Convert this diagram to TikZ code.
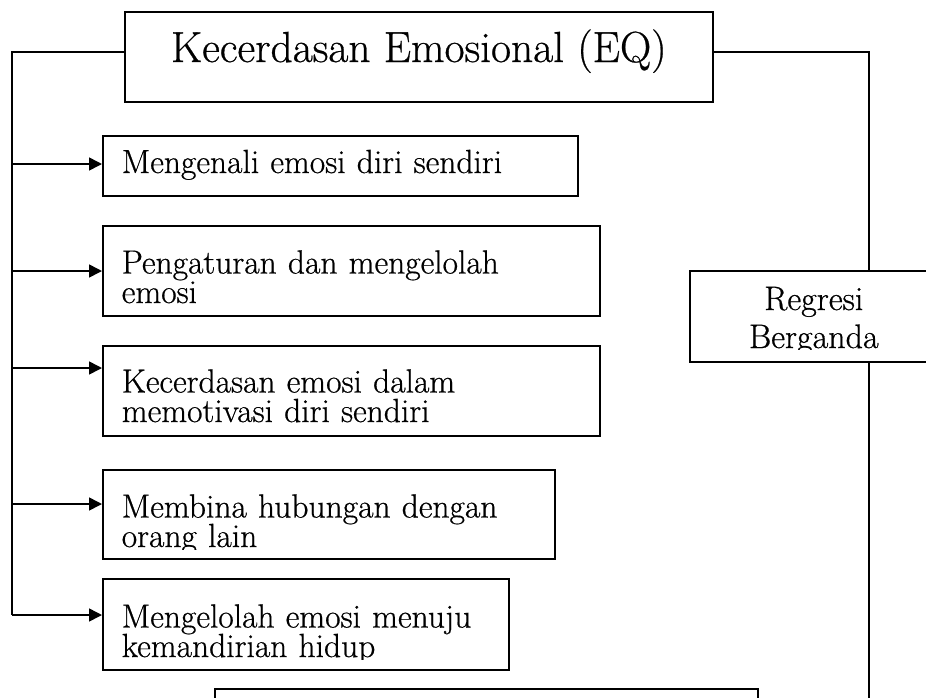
\documentclass[tikz,border=0pt]{standalone}
\usepackage{fontspec}
\setmainfont{Latin Modern Roman}
\usetikzlibrary{arrows.meta}
\newcommand{\heavier}{\addfontfeatures{FakeBold=0.6}}
\begin{document}
\begin{tikzpicture}[x=1pt,y=-1pt,line width=1.6pt,
  itembox/.style={draw, rectangle, anchor=base west, inner xsep=19pt, inner ysep=0pt,
    align=left, font={\fontsize{33.5}{29.5}\selectfont\heavier\lineskiplimit=-60pt}},
  conn/.style={-{Triangle[length=13pt,width=13pt]}},
  mask/.style={fill=white, draw=none}
]
\useasboundingbox (0,0) rectangle (926,697);
\clip (0,0) rectangle (926,697);

% title box (124..712 x 12..102), baseline 62
\node[draw, rectangle, anchor=base west, minimum width=588pt, inner sep=0pt,
  font={\fontsize{43.5}{50}\selectfont\heavier}, text height=50pt, text depth=40pt]
  (title) at (124,62) {Kecerdasan Emosional (EQ)};

% items
\node[itembox, text width=437pt, text height=37pt, text depth=23pt] (b1) at (102,173)
  {Mengenali emosi diri sendiri};
\node[itembox, text width=459pt, text height=47.5pt, text depth=42.5pt] (b2) at (102,273.5)
  {Pengaturan dan mengelolah\\emosi};
\node[itembox, text width=459pt, text height=46.5pt, text depth=43.5pt] (b3) at (102,392.5)
  {Kecerdasan emosi dalam\\memotivasi diri sendiri};
\node[itembox, text width=414pt, text height=47.5pt, text depth=41.5pt] (b4) at (102,517.5)
  {Membina hubungan dengan\\orang lain};
\node[itembox, text width=368pt, text height=48.5pt, text depth=42.5pt] (b5) at (102,627.5)
  {Mengelolah emosi menuju\\kemandirian hidup};

% regresi box (689..937 x 271..362)
\node[draw, rectangle, anchor=base west, inner sep=0pt, text width=248pt, align=center,
  font={\fontsize{34}{38}\selectfont\heavier}, text height=39pt, text depth=52pt]
  (reg) at (689,310) {Regresi\\Berganda};

% bottom box, cut off by the page edge
\node[draw, rectangle, anchor=north west, minimum width=543pt, minimum height=40pt,
  inner sep=0pt] (bot) at (214,688) {};

% descenders clipped by the text frames, as in the source
\fill[mask] (103.5,550) rectangle (552.5,557.5);
\fill[mask] (103.5,660) rectangle (506.5,668.5);
\fill[mask] (690.5,350) rectangle (926,360.5);

% coordinates
\coordinate (tl) at (12,52);
\coordinate (tr) at (869,52);
\coordinate (a1) at (12,164);
\coordinate (a2) at (12,271);
\coordinate (a3) at (12,368);
\coordinate (a4) at (12,504);
\coordinate (a5) at (12,615);
\coordinate (rb) at (869,700);

% left trunk
\draw (title.west |- tl) -- (tl) -- (a5);
\draw[conn] (a1) -- (a1 -| b1.west);
\draw[conn] (a2) -- (a2 -| b2.west);
\draw[conn] (a3) -- (a3 -| b3.west);
\draw[conn] (a4) -- (a4 -| b4.west);
\draw[conn] (a5) -- (a5 -| b5.west);

% right trunk
\draw (title.east |- tr) -- (tr) -- (tr |- reg.north);
\draw (tr |- reg.south) -- (rb);
\end{tikzpicture}
\end{document}
